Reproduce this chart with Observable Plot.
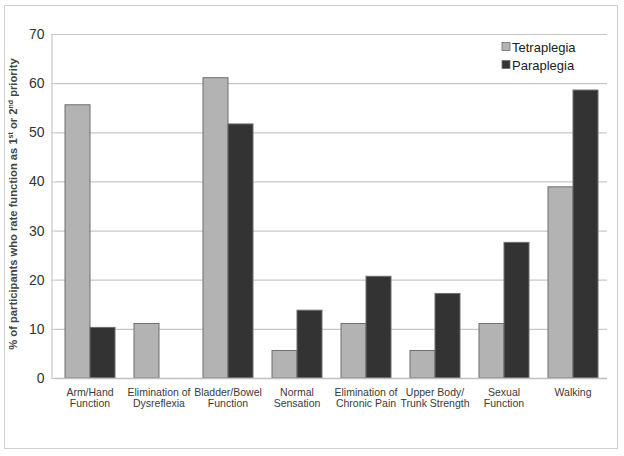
<!DOCTYPE html>
<html>
<head>
<meta charset="utf-8">
<script src="https://cdn.jsdelivr.net/npm/d3@7"></script>
<script src="https://cdn.jsdelivr.net/npm/@observablehq/plot@0.6"></script>
<style>
  html, body { margin: 0; padding: 0; background: #fff; }
  #wrap { position: relative; width: 624px; height: 456px; }
  #frame { position: absolute; left: 4px; top: 5px; width: 614px; height: 444px; border: 1px solid #d0d0d0; box-sizing: border-box; }
  #chart { position: absolute; left: 0; top: 0; }
</style>
</head>
<body>
<div id="wrap"><div id="frame"></div><div id="chart"></div></div>
<script>
const categories = [
  "Arm/Hand\nFunction",
  "Elimination of\nDysreflexia",
  "Bladder/Bowel\nFunction",
  "Normal\nSensation",
  "Elimination of\nChronic Pain",
  "Upper Body/\nTrunk Strength",
  "Sexual\nFunction",
  "Walking"
];
const seriesNames = ["Tetraplegia", "Paraplegia"];
const tetraplegia = [55.6, 11.1, 61.1, 5.6, 11.1, 5.6, 11.1, 38.9];
const paraplegia = [10.3, 0, 51.7, 13.8, 20.7, 17.2, 27.6, 58.6];
const seriesColors = ["#b3b3b3", "#333333"];
const yTicks = [0, 10, 20, 30, 40, 50, 60, 70];

const data = [];
categories.forEach((c, i) => {
  data.push({category: c, series: seriesNames[0], value: tetraplegia[i]});
  data.push({category: c, series: seriesNames[1], value: paraplegia[i]});
});

const plot = Plot.plot({
  width: 624,
  height: 456,
  marginLeft: 52,
  marginRight: 14,
  marginTop: 34,
  marginBottom: 78,
  style: {fontFamily: "Liberation Sans, Arial, sans-serif", background: "transparent"},
  fx: {domain: categories, padding: 0, label: null, axis: null},
  x: {domain: seriesNames, paddingInner: 0, paddingOuter: 0.37, axis: null},
  y: {domain: [0, 70], ticks: yTicks, label: null, axis: null},
  color: {domain: seriesNames, range: seriesColors},
  marks: [
    Plot.ruleY(yTicks.filter(d => d > 0), {stroke: "#c8c8c8", strokeWidth: 1.2}),
    Plot.barY(data, {fx: "category", x: "series", y: "value", fill: "series", stroke: "#6e6e6e", strokeWidth: 1}),
    Plot.axisY({ticks: yTicks, tickSize: 4, tickPadding: 7, fontSize: 14, fill: "#333", stroke: "#c8c8c8", label: null, anchor: "left"}),
    Plot.ruleY([0], {stroke: "#c0c0c0", strokeWidth: 1.5}),
    Plot.axisFx({anchor: "bottom", tickSize: 0, tickPadding: 10, fontSize: 10.5, fill: "#3a3a3a", lineHeight: 1.05, label: null})
  ]
});

document.getElementById("chart").appendChild(plot);

const svg = d3.select(plot);
// left axis line
svg.append("line").attr("x1", 52).attr("x2", 52).attr("y1", 34).attr("y2", 378)
  .attr("stroke", "#c8c8c8").attr("stroke-width", 1.2);

// y axis label with superscripts
const yl = svg.append("text")
  .attr("transform", "translate(17,204) rotate(-90)")
  .attr("text-anchor", "middle")
  .attr("font-size", 11.2)
  .attr("font-weight", "bold")
  .attr("fill", "#444")
  .attr("font-family", "Liberation Sans, Arial, sans-serif");
yl.append("tspan").text("% of participants who rate function as 1");
yl.append("tspan").attr("font-size", 7).attr("dy", -4).text("st");
yl.append("tspan").attr("dy", 4).text(" or 2");
yl.append("tspan").attr("font-size", 7).attr("dy", -4).text("nd");
yl.append("tspan").attr("dy", 4).text(" priority");

// legend
const lg = svg.append("g").attr("font-family", "Liberation Sans, Arial, sans-serif").attr("text-anchor", "start");
seriesNames.forEach((s, i) => {
  const y = 47 + i * 18;
  lg.append("rect").attr("x", 502).attr("y", y - 4.5).attr("width", 8).attr("height", 8)
    .attr("fill", seriesColors[i]).attr("stroke", "#6e6e6e").attr("stroke-width", 0.8);
  lg.append("text").attr("x", 512).attr("y", y).attr("dy", "0.35em")
    .attr("text-anchor", "start")
    .attr("font-size", 13).attr("fill", "#222").text(s);
});
</script>
</body>
</html>
